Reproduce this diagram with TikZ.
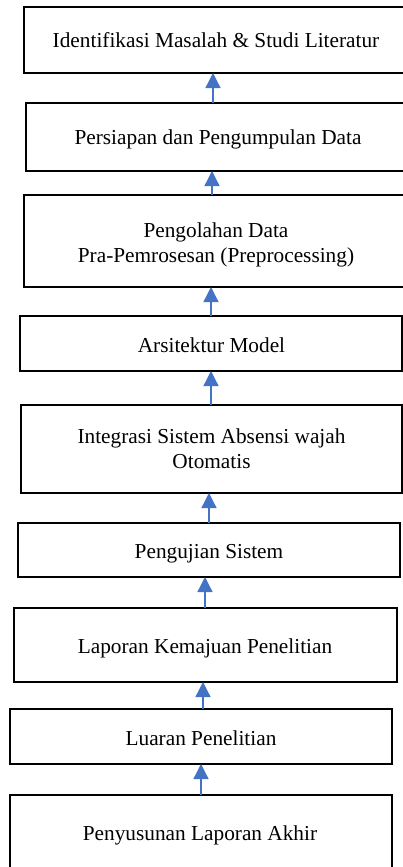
\documentclass[tikz,border=0pt]{standalone}
\usepackage{fontspec}
\setmainfont{Liberation Serif}
\usetikzlibrary{arrows.meta}
\definecolor{arrowblue}{HTML}{4472C4}
\begin{document}
\begin{tikzpicture}[x=1pt,y=-1pt,
  box/.style={draw=black,line width=2pt,rectangle,inner sep=0pt,outer sep=0pt},
  txt/.style={inner sep=0pt,outer sep=0pt,anchor=base,align=center,font=\fontsize{21.3}{24.5}\selectfont},
  arr/.style={draw=arrowblue,line width=1.3pt,-{Triangle[width=15pt,length=15pt]}}]
\useasboundingbox (0,0) rectangle (403,867);
\fill[white] (0,0) rectangle (403,867);
\clip (0,0) rectangle (403,867);
\node[box,minimum width=384pt,minimum height=66pt] (b1) at (216,40) {};
\node[box,minimum width=384pt,minimum height=68pt] (b2) at (218,137) {};
\node[box,minimum width=384pt,minimum height=92pt] (b3) at (216,241) {};
\node[box,minimum width=382pt,minimum height=55pt] (b4) at (211,343.5) {};
\node[box,minimum width=381pt,minimum height=88pt] (b5) at (211.5,449) {};
\node[box,minimum width=382pt,minimum height=54pt] (b6) at (209,550) {};
\node[box,minimum width=383pt,minimum height=74pt] (b7) at (205.5,645) {};
\node[box,minimum width=382pt,minimum height=55pt] (b8) at (201,736.5) {};
\node[box,minimum width=382pt,minimum height=77pt] (b9) at (201,833.5) {};
\node[txt] (t1) at (216,48) {Identifikasi Masalah \& Studi Literatur};
\node[txt] (t2) at (218,144) {Persiapan dan Pengumpulan Data};
\node[txt] (t3) at (216,262) {Pengolahan Data\\Pra-Pemrosesan (Preprocessing)};
\node[txt] (t4) at (211.5,352) {Arsitektur Model};
\node[txt] (t5) at (211.5,468) {Integrasi Sistem Absensi wajah\\Otomatis};
\node[txt] (t6) at (209,558) {Pengujian Sistem};
\node[txt] (t7) at (205,653) {Laporan Kemajuan Penelitian};
\node[txt] (t8) at (201,745) {Luaran Penelitian};
\node[txt] (t9) at (200,840) {Penyusunan Laporan Akhir};
\draw[arr] ([xshift=-5pt]b2.north) -- ([xshift=-3pt]b1.south);
\draw[arr] ([xshift=-4pt]b3.north) -- ([xshift=-6pt]b2.south);
\draw[arr] (b4.north) -- ([xshift=-5pt]b3.south);
\draw[arr] ([xshift=-0.5pt]b5.north) -- (b4.south);
\draw[arr] (b6.north) -- ([xshift=-2.5pt]b5.south);
\draw[arr] ([xshift=-0.5pt]b7.north) -- ([xshift=-4pt]b6.south);
\draw[arr] ([xshift=2pt]b8.north) -- ([xshift=-2.5pt]b7.south);
\draw[arr] (b9.north) -- (b8.south);
\end{tikzpicture}
\end{document}
